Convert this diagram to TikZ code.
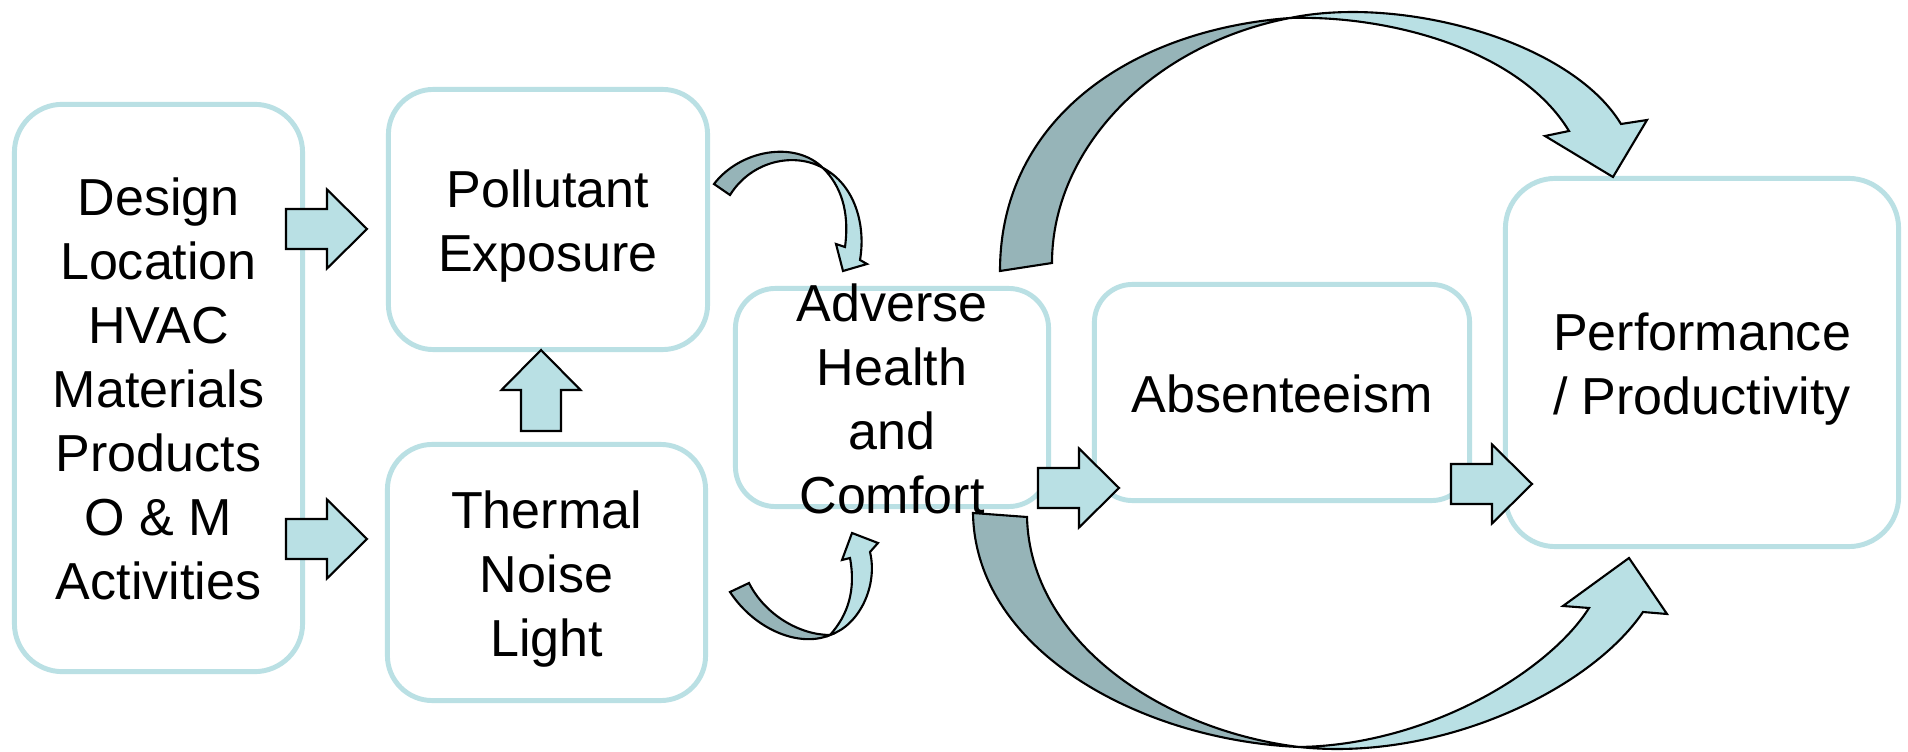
\documentclass[tikz,border=0pt]{standalone}
\usepackage{fontspec}
\setmainfont{Liberation Sans}

\definecolor{boxline}{RGB}{186,224,228}
\definecolor{arrowlight}{RGB}{185,224,228}
\definecolor{arrowdark}{RGB}{150,180,184}
\newcommand{\tstrut}{\rule[-0.125cm]{0pt}{0.64cm}}

\begin{document}
\begin{tikzpicture}[x=0.01cm,y=-0.01cm,
        boxtext/.style={align=center,inner sep=0pt,font=\fontsize{14.8pt}{18.2pt}\selectfont,
          execute at end node={\tstrut}},
        box/.style={boxtext,draw=boxline,line width=1.4pt,fill=white,rounded corners=#1},
        box/.default=0.45cm,
        arrowshape/.style={fill=arrowlight,draw=black,line width=0.6pt},
        bandback/.style={fill=arrowdark,draw=black,line width=0.6pt},
        blockarrow/.pic={\draw[arrowshape] (-41,-20) -- (0,-20) -- (0,-39.5) -- (40,0) -- (0,39.5) -- (0,20) -- (-41,20) -- cycle;}]
        \fill[white] (0,0) rectangle (1908,752);
        \useasboundingbox (0,0) rectangle (1908,752);

        \node[box=0.48cm,minimum width=2.88cm,minimum height=5.67cm] (design) at (158.5,388) {\tstrut Design\\Location\\HVAC\\Materials\\Products\\O \& M\\Activities};
        \node[box,minimum width=3.19cm,minimum height=2.6cm] (pollutant) at (548,219.5) {\tstrut Pollutant\\Exposure};
        \node[box,minimum width=3.18cm,minimum height=2.56cm] (thermal) at (546.5,572.5) {\tstrut Thermal\\Noise\\Light};
        \node[box=0.4cm,minimum width=3.13cm,minimum height=2.18cm] (adverse) at (892,397.5) {};
        \node[boxtext] (advtext) at (adverse.center) {\tstrut Adverse\\Health\\and\\Comfort};
        \node[box=0.38cm,minimum width=3.75cm,minimum height=2.16cm] (absent) at (1282,392.5) {\tstrut Absenteeism};
        \node[box=0.5cm,minimum width=3.93cm,minimum height=3.68cm] (perform) at (1702,362.5) {\tstrut Performance\\/ Productivity};

        \pic at (327,229) {blockarrow};
        \pic at (327,539) {blockarrow};
        \pic[rotate=90] at (541,390) {blockarrow};
        \pic at (1079,488) {blockarrow};
        \pic at (1492,484) {blockarrow};

        \draw[bandback] (714,184) .. controls (740,150) and (795,140) .. (823,168)
          .. controls (795,152) and (752,160) .. (730,195) -- cycle;
        \draw[arrowshape] (823,168) .. controls (855,185) and (866,225) .. (860,260)
          -- (867,264) -- (843,271) -- (836,244) -- (845,247)
          .. controls (850,210) and (840,185) .. (823,168) -- cycle;

        \draw[bandback] (730,592) .. controls (755,630) and (800,648) .. (830,635)
          .. controls (800,635) and (765,615) .. (749,583) -- cycle;
        \draw[arrowshape] (830,635) .. controls (860,625) and (878,585) .. (870,552)
          -- (878,543) -- (852,533) -- (842,560) -- (850,558)
          .. controls (856,590) and (848,615) .. (830,635) -- cycle;

        \draw[bandback] (1000,271) .. controls (1000,120) and (1130,30) .. (1290,18)
          .. controls (1150,45) and (1052,150) .. (1052,263) -- cycle;
        \draw[arrowshape] (1290,18) .. controls (1400,-5) and (1570,40) .. (1621,124)
          -- (1647,120) -- (1613,177) -- (1545,136) -- (1569,131)
          .. controls (1520,50) and (1390,15) .. (1290,18) -- cycle;

        \draw[bandback] (973,513) .. controls (975,650) and (1140,740) .. (1299,747)
          .. controls (1160,730) and (1030,640) .. (1027,517) -- cycle;
        \draw[arrowshape] (1299,747) .. controls (1440,762) and (1590,690) .. (1643,612)
          -- (1667,614) -- (1629,558) -- (1563,606) -- (1589,608)
          .. controls (1550,670) and (1430,745) .. (1299,747) -- cycle;
\end{tikzpicture}
\end{document}
